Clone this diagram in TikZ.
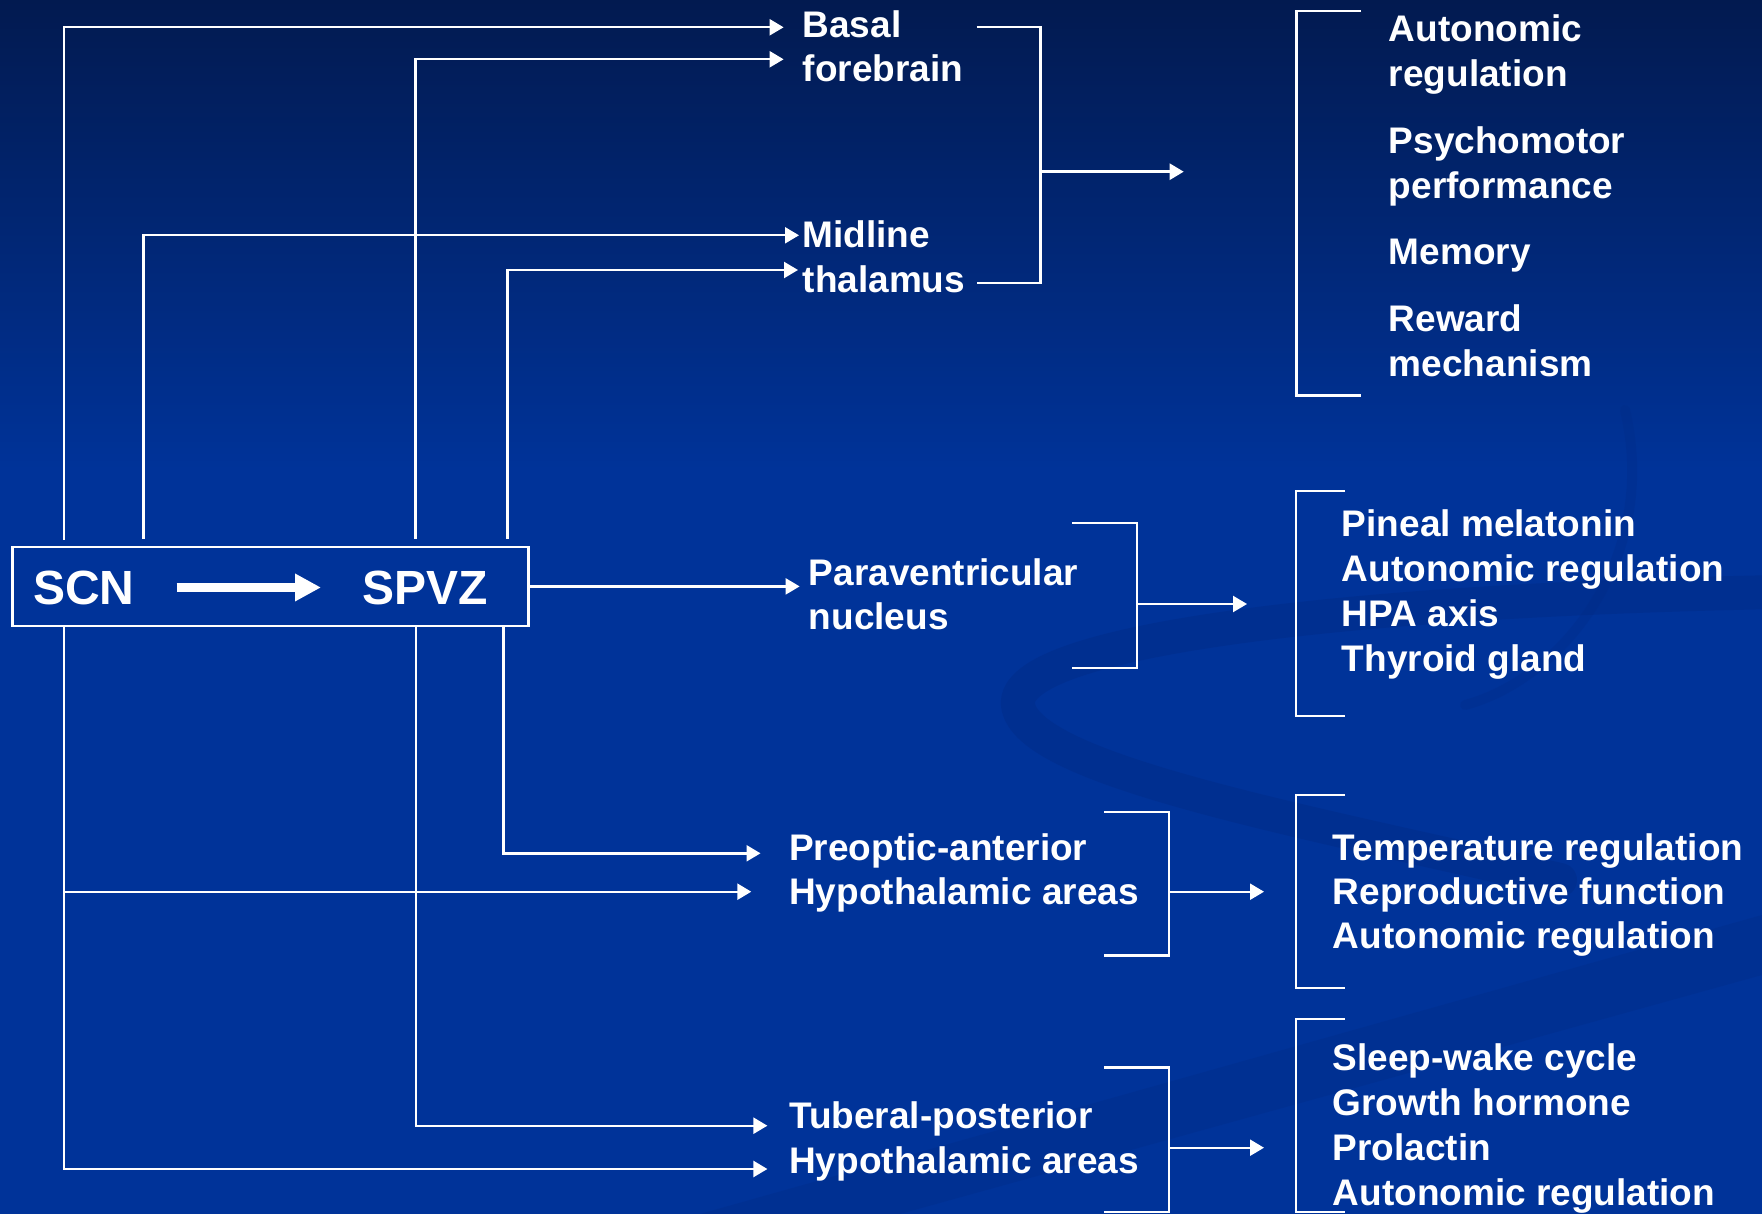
\documentclass[tikz,border=0pt]{standalone}
\usepackage{fontspec}
\setmainfont{Liberation Sans}
\usetikzlibrary{arrows.meta}
\definecolor{bgtop}{RGB}{2,26,80}
\definecolor{bgblue}{RGB}{0,51,153}
\definecolor{swirlc}{RGB}{0,42,132}
\begin{document}
\begin{tikzpicture}[x=1pt,y=-1pt,
  lbl/.style={anchor=base west, inner sep=0pt, text=white, font=\bfseries\fontsize{37}{44}\selectfont},
  big/.style={anchor=base west, inner sep=0pt, text=white, font=\bfseries\fontsize{48}{56}\selectfont},
  wire/.style={draw=white, line width=2.4pt},
  arr/.style={wire, -{Triangle[length=14pt,width=16pt]}},
  fatarr/.style={draw=white, line width=9pt, -{Triangle[length=26pt,width=26pt]}},
  frame/.style={draw=white, line width=2.4pt, inner sep=0pt, minimum width=515.9pt, minimum height=79.3pt},
  swirl/.style={draw=swirlc, opacity=0.4, line cap=round}
]
\useasboundingbox (0,0) rectangle (1762,1214);
% background
\fill[bgblue] (0,0) rectangle (1762,1214);
\shade[top color=bgtop, bottom color=bgblue] (0,0) rectangle (1762,470);
% faint background swoosh
\draw[swirl, line width=34pt] (1780,592) .. controls (1350,600) and (1010,640) .. (1018,705)
   .. controls (1026,770) and (1300,820) .. (1560,880);
\draw[swirl, line width=10pt, opacity=0.25] (1625,410) .. controls (1660,560) and (1560,680) .. (1465,705);
\fill[swirlc, opacity=0.3] (700,1214) -- (1762,915) -- (1762,975) -- (900,1214) -- cycle;

% SCN / SPVZ box
\node[frame] (box) at (270.5,586.4) {};
\node[big] (scn) at (33,604) {SCN};
\node[big] (spvz) at (362,604) {SPVZ};
\draw[fatarr, shorten <=42pt, shorten >=41pt] (scn.east) -- (spvz.west);

% target labels
\node[lbl] (basal1) at (802.5,37.3) {Basal};
\node[lbl] (basal2) at (802.5,81.7) {forebrain};
\node[lbl] (mid1) at (802.5,248) {Midline};
\node[lbl] (mid2) at (802.5,293) {thalamus};
\node[lbl] (pvn1) at (808.6,585) {Paraventricular};
\node[lbl] (pvn2) at (808.6,629) {nucleus};
\node[lbl] (poa1) at (789,860) {Preoptic-anterior};
\node[lbl] (poa2) at (789,904.3) {Hypothalamic areas};
\node[lbl] (tub1) at (789,1128.3) {Tuberal-posterior};
\node[lbl] (tub2) at (789,1173.3) {Hypothalamic areas};

% function labels
\node[lbl] (f1a) at (1388.7,41.7) {Autonomic};
\node[lbl] (f1b) at (1388.7,86.7) {regulation};
\node[lbl] (f1c) at (1388.7,154) {Psychomotor};
\node[lbl] (f1d) at (1388.7,199) {performance};
\node[lbl] (f1e) at (1388.7,265) {Memory};
\node[lbl] (f1f) at (1388.7,331.7) {Reward};
\node[lbl] (f1g) at (1388.7,376.7) {mechanism};

\node[lbl] (f2a) at (1341.7,536.7) {Pineal melatonin};
\node[lbl] (f2b) at (1341.7,581) {Autonomic regulation};
\node[lbl] (f2c) at (1341.7,626.7) {HPA axis};
\node[lbl] (f2d) at (1341.7,671) {Thyroid gland};

\node[lbl] (f3a) at (1332.6,860) {Temperature regulation};
\node[lbl] (f3b) at (1332.6,904) {Reproductive function};
\node[lbl] (f3c) at (1332.6,948.3) {Autonomic regulation};

\node[lbl] (f4a) at (1332.6,1070) {Sleep-wake cycle};
\node[lbl] (f4b) at (1332.6,1115) {Growth hormone};
\node[lbl] (f4c) at (1332.6,1160) {Prolactin};
\node[lbl] (f4d) at (1332.6,1205) {Autonomic regulation};

% arrow tips in front of the labels
\coordinate (tBasal) at (783.6,27.3);
\coordinate (tFore) at (783.6,59.3);
\coordinate (tMid) at (799,235.3);
\coordinate (tThal) at (798,270);
\coordinate (tPvn) at (799.6,586.4);
\coordinate (tPoa) at (760.5,853.3);
\coordinate (tHyp1) at (751.3,891.7);
\coordinate (tTub) at (767.4,1125.7);
\coordinate (tHyp2) at (767.4,1169);
\coordinate (scnBranch) at (64,891.7);

% connectors from the box
\draw[arr] ([yshift=6pt]box.north -| 64,0) |- (tBasal);
\draw[arr] ([yshift=7pt]box.north -| 415.6,0) |- (tFore);
\draw[arr] ([yshift=7pt]box.north -| 143.5,0) |- (tMid);
\draw[arr] ([yshift=7pt]box.north -| 507.5,0) |- (tThal);
\draw[arr] (box.east) -- (tPvn);
\draw[arr] (box.south -| 503.5,0) |- (tPoa);
\draw[arr] (box.south -| 64,0) |- (tHyp2);
\draw[arr] (scnBranch) -- (tHyp1);
\draw[arr] (box.south -| 416,0) |- (tTub);

% grouping brackets and their outputs
\draw[wire] (976.5,27.3) -| (1040.3,283.3) -- (976.5,283.3);
\coordinate (g1) at (1040.3,171.7);
\coordinate (o1) at (1183.7,171.7);
\draw[arr] (g1) -- (o1);
\draw[wire] (1361,11) -| (1296.4,395.7) -- (1361,395.7);

\draw[wire] (1072,522.7) -| (1137,667.7) -- (1072,667.7);
\coordinate (g2) at (1137,604);
\coordinate (o2) at (1247,604);
\draw[arr] (g2) -- (o2);
\draw[wire] (1345,491) -| (1296,715.7) -- (1345,715.7);

\draw[wire] (1104,811.7) -| (1169,955.3) -- (1104,955.3);
\coordinate (g3) at (1169,891.7);
\coordinate (o3) at (1264,891.7);
\draw[arr] (g3) -- (o3);
\draw[wire] (1345,795) -| (1296,987.7) -- (1345,987.7);

\draw[wire] (1104,1067.3) -| (1169,1211.7) -- (1104,1211.7);
\coordinate (g4) at (1169,1147.7);
\coordinate (o4) at (1264,1147.7);
\draw[arr] (g4) -- (o4);
\draw[wire] (1345,1019) -| (1296,1211.7) -- (1345,1211.7);
\end{tikzpicture}
\end{document}
